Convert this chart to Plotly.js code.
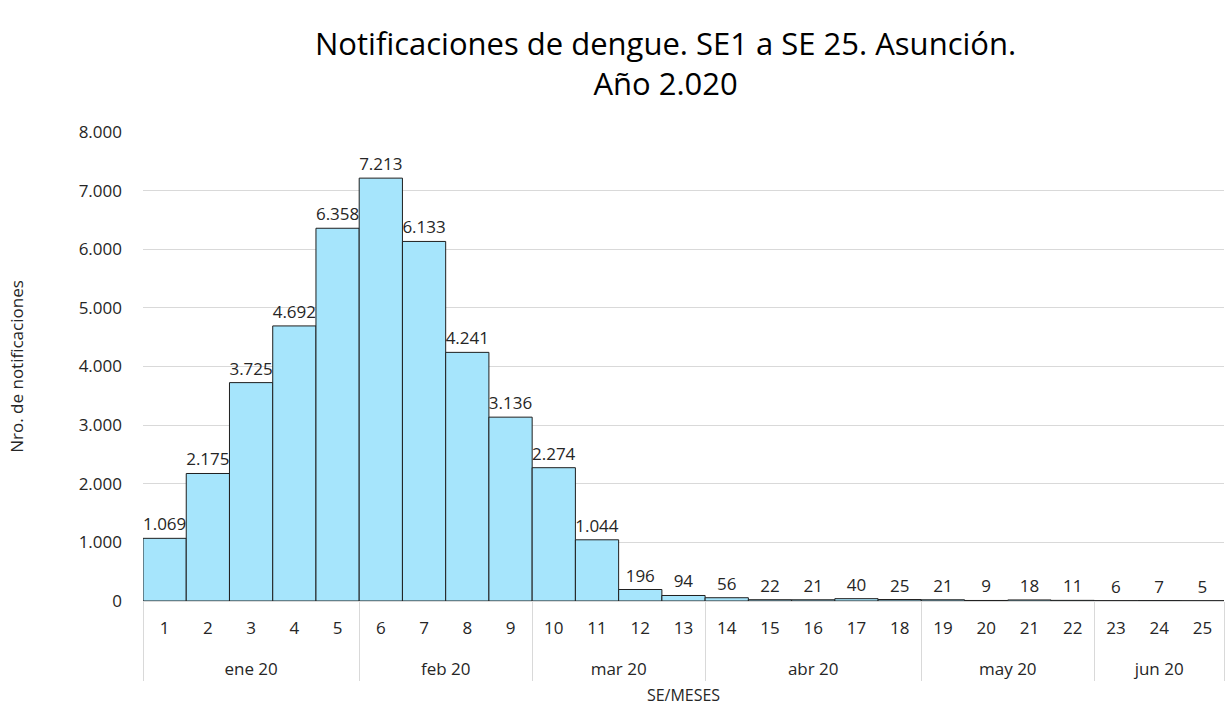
<!DOCTYPE html>
<html>
<head>
<meta charset="utf-8">
<script src="https://cdn.plot.ly/plotly-3.0.1.min.js"></script>
<style>html,body{margin:0;padding:0;background:#fff;}#chart{width:1228px;height:706px;}</style>
</head>
<body>
<div id="chart"></div>
<script>
const weeks = ["1","2","3","4","5","6","7","8","9","10","11","12","13","14","15","16","17","18","19","20","21","22","23","24","25"];
const months = ["ene 20","ene 20","ene 20","ene 20","ene 20","feb 20","feb 20","feb 20","feb 20","mar 20","mar 20","mar 20","mar 20","abr 20","abr 20","abr 20","abr 20","abr 20","may 20","may 20","may 20","may 20","jun 20","jun 20","jun 20"];
const notificaciones = [1069,2175,3725,4692,6358,7213,6133,4241,3136,2274,1044,196,94,56,22,21,40,25,21,9,18,11,6,7,5];
const yTicks = [0,1000,2000,3000,4000,5000,6000,7000,8000];

// month groups (label, centre position, boundaries) derived from the months array
const monthLabels = [], monthCenters = [], monthBounds = [-0.5];
let start = 0;
for (let i = 1; i <= months.length; i++) {
  if (i === months.length || months[i] !== months[start]) {
    monthLabels.push(months[start]);
    monthCenters.push((start + i - 1) / 2);
    monthBounds.push(i - 0.5);
    start = i;
  }
}

const font = '"Open Sans", "Noto Sans", sans-serif';
const txt = '#262626';
const xr = [-0.5, weeks.length - 0.5];

Plotly.newPlot('chart', [{
  type: 'bar',
  x: weeks,
  y: notificaciones,
  marker: {color: '#a6e5fc', line: {color: '#1f1f1f', width: 1}},
  texttemplate: '%{y:,.0f}',
  textposition: 'outside',
  constraintext: 'none',
  cliponaxis: false,
  textfont: {family: font, size: 17, color: txt},
  hoverinfo: 'skip'
}, {
  type: 'scatter', mode: 'none', x: [], y: [], xaxis: 'x2', yaxis: 'y', hoverinfo: 'skip'
}, {
  type: 'scatter', mode: 'none', x: [], y: [], xaxis: 'x3', yaxis: 'y', hoverinfo: 'skip'
}], {
  width: 1228, height: 706,
  separators: ',.',
  margin: {l: 143, r: 4, t: 132, b: 105},
  bargap: 0,
  paper_bgcolor: '#fff', plot_bgcolor: '#fff',
  showlegend: false,
  title: {
    text: 'Notificaciones de dengue. SE1 a SE 25. Asunción.<br>Año 2.020',
    x: 0.542, xanchor: 'center', y: 0.922, yanchor: 'top',
    font: {family: font, size: 31, color: '#000'}
  },
  xaxis: {
    type: 'category', range: xr,
    tickfont: {family: font, size: 17, color: txt},
    ticklabelstandoff: 12,
    showline: true, linecolor: '#d9d9d9', linewidth: 1,
    ticks: '', showgrid: false, fixedrange: true
  },
  xaxis2: {
    overlaying: 'x', anchor: 'y', side: 'bottom', type: 'linear', range: xr,
    tickmode: 'array', tickvals: monthCenters, ticktext: monthLabels,
    tickfont: {family: font, size: 17, color: txt},
    ticklabelstandoff: 56,
    ticks: '', showgrid: false, showline: false, zeroline: false,
    title: {text: 'SE/MESES', font: {family: font, size: 16, color: txt}, standoff: 12}
  },
  xaxis3: {
    overlaying: 'x', anchor: 'y', side: 'bottom', type: 'linear', range: xr,
    tickmode: 'array', tickvals: monthBounds,
    showticklabels: false,
    ticks: 'outside', ticklen: 79, tickcolor: '#d9d9d9', tickwidth: 1,
    showgrid: false, showline: false, zeroline: false
  },
  yaxis: {
    range: [0, 8000],
    tickvals: yTicks,
    tickformat: ',.0f',
    showgrid: true, gridcolor: '#d9d9d9', gridwidth: 1,
    zeroline: false,
    showline: false, ticks: '',
    tickfont: {family: font, size: 17, color: txt},
    ticklabelstandoff: 20,
    title: {text: 'Nro. de notificaciones', font: {family: font, size: 17, color: txt}, standoff: 50}
  }
}, {displayModeBar: false, staticPlot: true});
</script>
</body>
</html>
